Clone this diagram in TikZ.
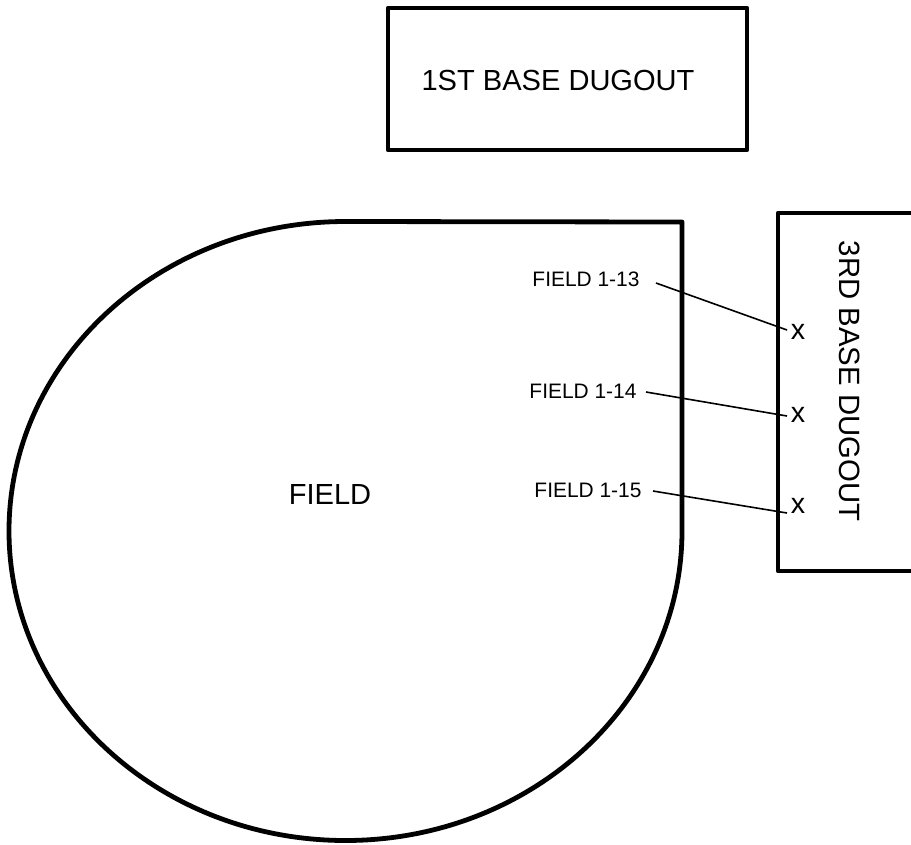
\documentclass[tikz,border=0pt]{standalone}
\usepackage{fontspec}
\setmainfont{Liberation Sans}
\tikzset{
  heavy/.style={draw=black,line width=3.6pt,line join=round,line cap=round},
  lead/.style={draw=black,line width=1.2pt},
  lab/.style={inner sep=0pt,font=\fontsize{15.7pt}{17pt}\selectfont},
  big/.style={inner sep=0pt,font=\fontsize{21.8pt}{25pt}\selectfont},
  bigv/.style={inner sep=0pt,font=\fontsize{22pt}{25pt}\selectfont},
  xm/.style={inner sep=0pt,font=\fontsize{21.5pt}{24pt}\selectfont}
}
\begin{document}
\begin{tikzpicture}[x=0.75pt,y=-0.75pt]
\useasboundingbox (0,0) rectangle (911,844);
\fill[white] (0,0) rectangle (911,844);
\draw[heavy] (388,8) rectangle (747,150);
\draw[heavy] (915,213) -- (778,213) -- (778,571) -- (915,571);
\draw[heavy] (682,222) -- (682,531) arc[start angle=0,end angle=270,x radius=336.5,y radius=309.5] -- cycle;
\node[big] (d1) at (558,80) {1ST BASE DUGOUT};
\node[bigv,rotate=-90] (d3) at (850,381) {3RD BASE DUGOUT};
\node[big] (f) at (330,494) {FIELD};
\node[lab] (l13) at (586,279) {FIELD 1-13};
\node[lab] (l14) at (583,391) {FIELD 1-14};
\node[lab] (l15) at (588,490) {FIELD 1-15};
\node[xm] (x13) at (798,332) {x};
\node[xm] (x14) at (798,415) {x};
\node[xm] (x15) at (798,506) {x};
\coordinate (e13) at (787,330);
\coordinate (e14) at (787,416);
\coordinate (e15) at (787,513);
\coordinate (s13) at (656,283);
\coordinate (s14) at (646,392);
\coordinate (s15) at (653,491);
\draw[lead] (s13) -- (e13);
\draw[lead] (s14) -- (e14);
\draw[lead] (s15) -- (e15);
\end{tikzpicture}
\end{document}
